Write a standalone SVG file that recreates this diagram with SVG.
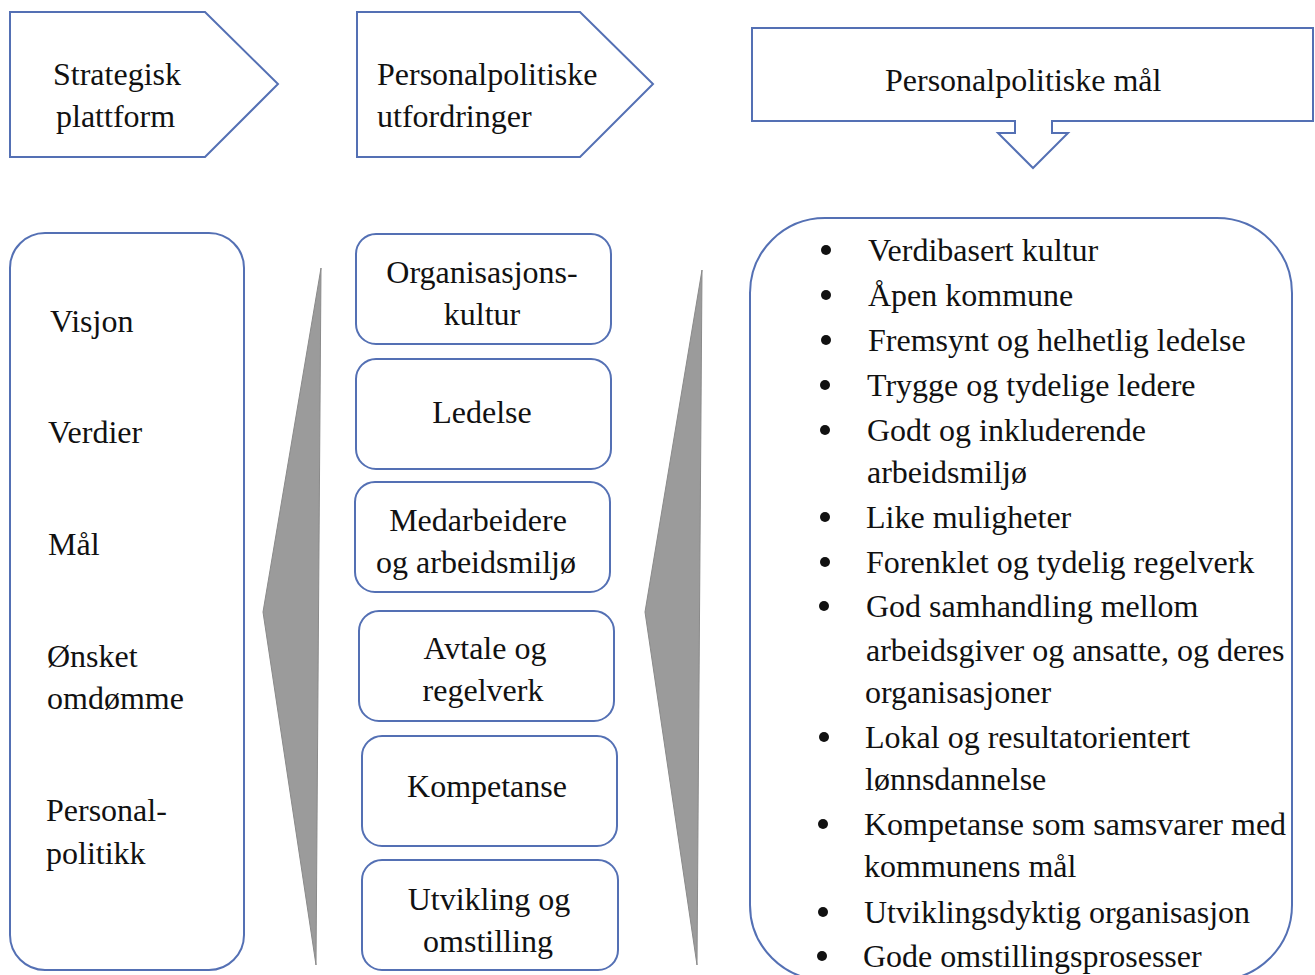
<svg xmlns="http://www.w3.org/2000/svg" width="1315" height="975" viewBox="0 0 1315 975">
<style>
.box{fill:#fff;stroke:#5470b4;stroke-width:2}
.t{font-family:"Liberation Serif","Times New Roman",serif;font-size:32px;fill:#111}
.m{text-anchor:middle}
.wedge{fill:#9b9b9b;stroke:#8a8a8a;stroke-width:1}
.dot{fill:#111}
</style>
<rect width="1315" height="975" fill="#fff"/>
<g id="head1">
<polygon class="box" points="10,12 205,12 278,84 205,157 10,157"/>
<text class="t" x="53" y="85">Strategisk</text>
<text class="t" x="56" y="127">plattform</text>
</g>
<g id="head2">
<polygon class="box" points="357,12 580,12 653,84 580,157 357,157"/>
<text class="t" x="377" y="85">Personalpolitiske</text>
<text class="t" x="377" y="127">utfordringer</text>
</g>
<g id="head3">
<polygon class="box" points="752,28 1313,28 1313,121 1052,121 1052,133 1068,133 1033,168 998,133 1015,133 1015,121 752,121"/>
<text class="t" x="885" y="91">Personalpolitiske mål</text>
</g>
<g id="left">
<rect class="box" x="10" y="233" width="234" height="737" rx="35"/>
<text class="t" x="50" y="332">Visjon</text>
<text class="t" x="48" y="443">Verdier</text>
<text class="t" x="48" y="555">Mål</text>
<text class="t" x="47" y="667">Ønsket</text>
<text class="t" x="47" y="709">omdømme</text>
<text class="t" x="46" y="821">Personal-</text>
<text class="t" x="46" y="864">politikk</text>
</g>
<g id="connectors">
<polygon class="wedge" points="321,268 263,612 316,965"/>
<polygon class="wedge" points="702,270 645,612 697,965"/>
</g>
<g id="mid1">
<rect class="box" x="356" y="234" width="255" height="110" rx="20"/>
<text class="t m" x="482" y="283">Organisasjons-</text>
<text class="t m" x="482" y="325">kultur</text>
</g>
<g id="mid2">
<rect class="box" x="356" y="359" width="255" height="110" rx="20"/>
<text class="t m" x="482" y="423">Ledelse</text>
</g>
<g id="mid3">
<rect class="box" x="355" y="482" width="255" height="110" rx="20"/>
<text class="t m" x="478" y="531">Medarbeidere</text>
<text class="t m" x="476" y="573">og arbeidsmiljø</text>
</g>
<g id="mid4">
<rect class="box" x="359" y="611" width="255" height="110" rx="20"/>
<text class="t m" x="485" y="659">Avtale og</text>
<text class="t m" x="483" y="701">regelverk</text>
</g>
<g id="mid5">
<rect class="box" x="362" y="736" width="255" height="110" rx="20"/>
<text class="t m" x="487" y="797">Kompetanse</text>
</g>
<g id="mid6">
<rect class="box" x="362" y="860" width="256" height="110" rx="20"/>
<text class="t m" x="489" y="910">Utvikling og</text>
<text class="t m" x="488" y="952">omstilling</text>
</g>
<g id="right">
<rect class="box" x="750" y="218" width="542" height="762" rx="75"/>
<g class="dot">
<circle cx="826" cy="250" r="5"/>
<circle cx="826" cy="295" r="5"/>
<circle cx="826" cy="340" r="5"/>
<circle cx="825" cy="385" r="5"/>
<circle cx="825" cy="430" r="5"/>
<circle cx="825" cy="517" r="5"/>
<circle cx="825" cy="562" r="5"/>
<circle cx="824" cy="606" r="5"/>
<circle cx="824" cy="737" r="5"/>
<circle cx="823" cy="824" r="5"/>
<circle cx="823" cy="912" r="5"/>
<circle cx="822" cy="956" r="5"/>
</g>
<text class="t" x="868" y="261">Verdibasert kultur</text>
<text class="t" x="868" y="306">Åpen kommune</text>
<text class="t" x="868" y="351">Fremsynt og helhetlig ledelse</text>
<text class="t" x="867" y="396">Trygge og tydelige ledere</text>
<text class="t" x="867" y="441">Godt og inkluderende</text>
<text class="t" x="867" y="483">arbeidsmiljø</text>
<text class="t" x="866" y="528">Like muligheter</text>
<text class="t" x="866" y="573">Forenklet og tydelig regelverk</text>
<text class="t" x="866" y="617">God samhandling mellom</text>
<text class="t" x="866" y="661">arbeidsgiver og ansatte, og deres</text>
<text class="t" x="865" y="703">organisasjoner</text>
<text class="t" x="865" y="748">Lokal og resultatorientert</text>
<text class="t" x="865" y="790">lønnsdannelse</text>
<text class="t" x="864" y="835">Kompetanse som samsvarer med</text>
<text class="t" x="864" y="877">kommunens mål</text>
<text class="t" x="864" y="923">Utviklingsdyktig organisasjon</text>
<text class="t" x="863" y="967">Gode omstillingsprosesser</text>
</g>
</svg>
